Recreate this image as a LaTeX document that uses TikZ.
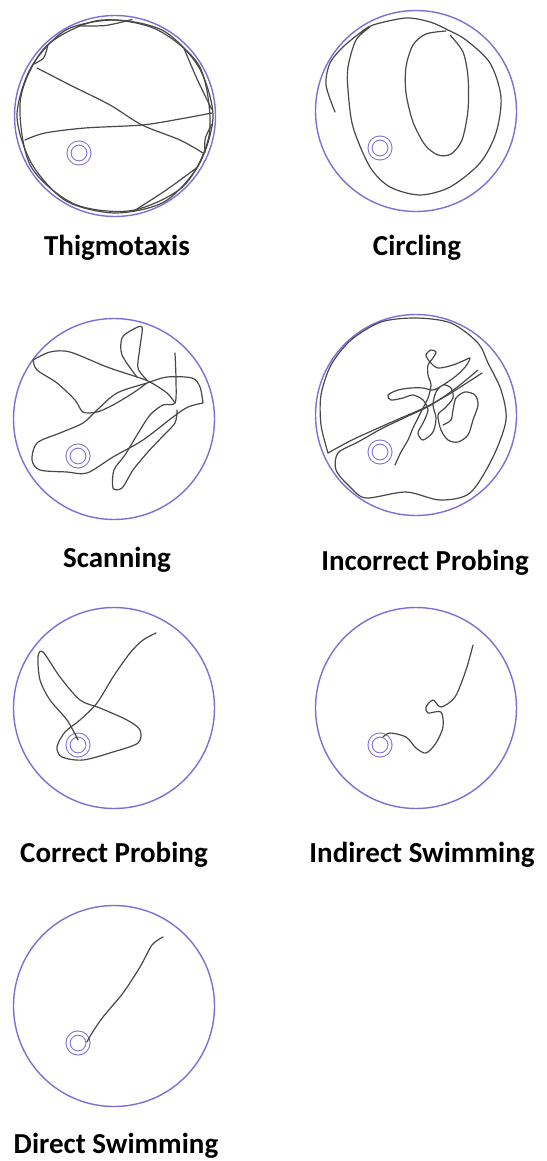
\documentclass[tikz,border=0pt]{standalone}
\usepackage{fontspec}
\setmainfont{Carlito}
\usetikzlibrary{positioning, calc}
\definecolor{poolblue}{RGB}{122,112,218}
\definecolor{trackgray}{RGB}{72,72,72}

\begin{document}
\begin{tikzpicture}[
    x=1pt, y=-1pt,
    arena/.style={circle, draw=poolblue, line width=1.4pt, minimum size=201pt, inner sep=0pt},
    platform/.style={circle, draw=poolblue, line width=1pt, double=white, double distance=3pt, minimum size=20pt, inner sep=0pt},
    track/.style={draw=trackgray, line width=1.2pt, line join=round, line cap=round},
    strategy/.style={font=\fontsize{29}{30}\selectfont\bfseries, anchor=base}
]
\useasboundingbox (0,0) rectangle (546,1161);

% pools, one per search strategy
\node[arena] (thig) at (115,116) {};
\node[arena] (circ) at (416,111) {};
\node[arena] (scan) at (114,419) {};
\node[arena] (incp) at (416,415) {};
\node[arena] (corp) at (114,708) {};
\node[arena] (indi) at (416,708) {};
\node[arena] (dire) at (114,1006) {};

% hidden platform, same spot in every pool
\foreach \p in {thig, circ, scan, incp, corp, indi, dire}
    \node[platform] (\p-plat) at ($(\p)+(-36,37)$) {};

% strategy names
\node[strategy] (thig-name) at (117,255) {Thigmotaxis};
\node[strategy] (circ-name) at (417,255) {Circling};
\node[strategy] (scan-name) at (117,567) {Scanning};
\node[strategy] (incp-name) at (425,570) {Incorrect Probing};
\node[strategy] (corp-name) at (114,862) {Correct Probing};
\node[strategy] (indi-name) at (422,862) {Indirect Swimming};
\node[strategy] (dire-name) at (116,1153) {Direct Swimming};

% swim paths
\begin{scope}[shift={(thig.center)}]
\draw[track] plot[smooth cycle] coordinates {(0:98) (30:97) (60:99) (90:97) (120:98) (150:96) (180:98) (210:97) (240:99) (270:96) (300:98) (330:97)};
\draw[track] plot[smooth cycle] coordinates {(10:96) (45:98) (80:96) (115:97) (150:98) (190:96) (225:98) (260:97) (295:96) (330:98)};
\draw[track] plot[smooth] coordinates {(-78,-48) (-45,-31) (-5,-11) (27,9) (65,24) (88,37)};
\draw[track] plot[smooth] coordinates {(-90,24) (-70,17) (-30,12) (27,9) (65,3) (97,-3)};
\draw[track] plot[smooth] coordinates {(-113:98) (-96:91) (-80:98)};
\draw[track] plot[smooth] coordinates {(-45:97) (-24:90) (-4:97)};
\draw[track] plot[smooth] coordinates {(5:97) (14:93) (22:97)};
\draw[track] plot[smooth] coordinates {(32:97) (55:90) (79:97)};
\draw[track] plot[smooth] coordinates {(-148:97) (-141:92) (-134:97)};
\end{scope}

\begin{scope}[shift={(273,0)}]
\draw[track] plot[smooth] coordinates {(62,112) (53,85) (57,63) (70,47) (87,33) (100,25) (133,18) (157,22) (175,30) (193,40) (217,63) (228,97) (223,133) (207,163) (177,187) (147,195) (117,187) (97,167) (80,127) (75,90) (75,67) (83,40) (97,27)};
\draw[track] plot[smooth] coordinates {(173,31) (153,34) (140,45) (133,67) (133,93) (140,122) (152,145) (165,155) (178,154) (189,140) (195,110) (195,77) (190,52) (177,35)};
\end{scope}

\begin{scope}[shift={(0,280)}]
\draw[track] plot[smooth] coordinates {(203,123) (200,107) (192,98) (167,97) (147,103) (117,113) (97,130) (83,143) (60,153) (37,163) (32,180) (40,190) (67,192) (87,193) (113,177) (143,160) (173,137) (188,127) (203,123)};
\draw[track] plot[smooth] coordinates {(175,73) (176,100) (175,123) (163,125) (150,135) (137,155) (125,175) (114,190) (113,208) (122,208) (133,190) (147,173) (162,157) (175,143) (177,130)};
\draw[track] plot[smooth] coordinates {(33,80) (50,72) (70,72) (107,87) (137,97) (150,102) (167,113) (175,123)};
\draw[track] plot[smooth] coordinates {(33,80) (37,90) (57,103) (75,120) (83,132) (97,132) (113,125) (133,113) (147,103)};
\draw[track] plot[smooth] coordinates {(137,97) (122,75) (122,58) (132,50) (142,47) (140,67) (138,88) (147,100)};
\end{scope}

\begin{scope}[shift={(incp.center)}]
\draw[track] plot[smooth] coordinates {(-88,38) (-95,10) (-95,-20) (-85,-50) (-65,-75) (-35,-93) (0,-97) (35,-92) (62,-72) (72,-52) (85,-25) (90,5) (77,42) (54,78) (24,85) (-10,77) (-50,83) (-66,72) (-80,55) (-78,38) (-58,27) (-35,14) (-10,2) (15,-10) (40,-27) (62,-45)};
\draw[track] plot[smooth] coordinates {(-88,38) (-66,26) (-40,14) (-15,3) (10,-8) (35,-22) (66,-42)};
\end{scope}

\begin{scope}[shift={(273,280)}]
\draw[track] plot[smooth] coordinates {(122,185) (128,172) (135,160) (140,148) (145,138) (150,128) (155,118) (158,105) (155,95) (155,85) (160,78) (163,72) (158,70) (153,75) (157,82) (165,88) (180,85) (192,80) (197,78) (193,86) (183,96) (170,105) (160,110) (150,108) (138,108) (125,110) (115,115) (118,120) (130,118) (140,115) (150,120) (155,130) (150,143) (145,153) (150,160) (160,152) (163,138) (160,125) (163,112) (170,105) (178,108) (180,118) (172,128) (165,135) (168,150) (175,160) (185,162) (195,155) (200,140) (205,125) (202,115) (192,112) (183,118) (180,130) (178,140) (170,145)};
\end{scope}

\begin{scope}[shift={(0,580)}]
\draw[track] plot[smooth] coordinates {(156,53) (143,60) (130,73) (113,97) (97,123) (80,140) (65,152) (57,167) (62,177) (83,180) (113,172) (138,163) (140,150) (127,140) (100,128) (80,120) (60,97) (43,72) (38,77) (40,100) (50,120) (67,140) (78,160)};
\end{scope}

\begin{scope}[shift={(273,580)}]
\draw[track] plot[smooth] coordinates {(200,65) (193,90) (182,117) (168,127) (160,120) (153,127) (155,133) (168,132) (170,147) (163,163) (153,173) (143,168) (133,157) (117,153) (110,157)};
\end{scope}

\begin{scope}[shift={(0,870)}]
\draw[track] plot[smooth] coordinates {(163,67) (152,75) (140,97) (123,123) (103,147) (92,163) (87,172)};
\end{scope}

\end{tikzpicture}
\end{document}
